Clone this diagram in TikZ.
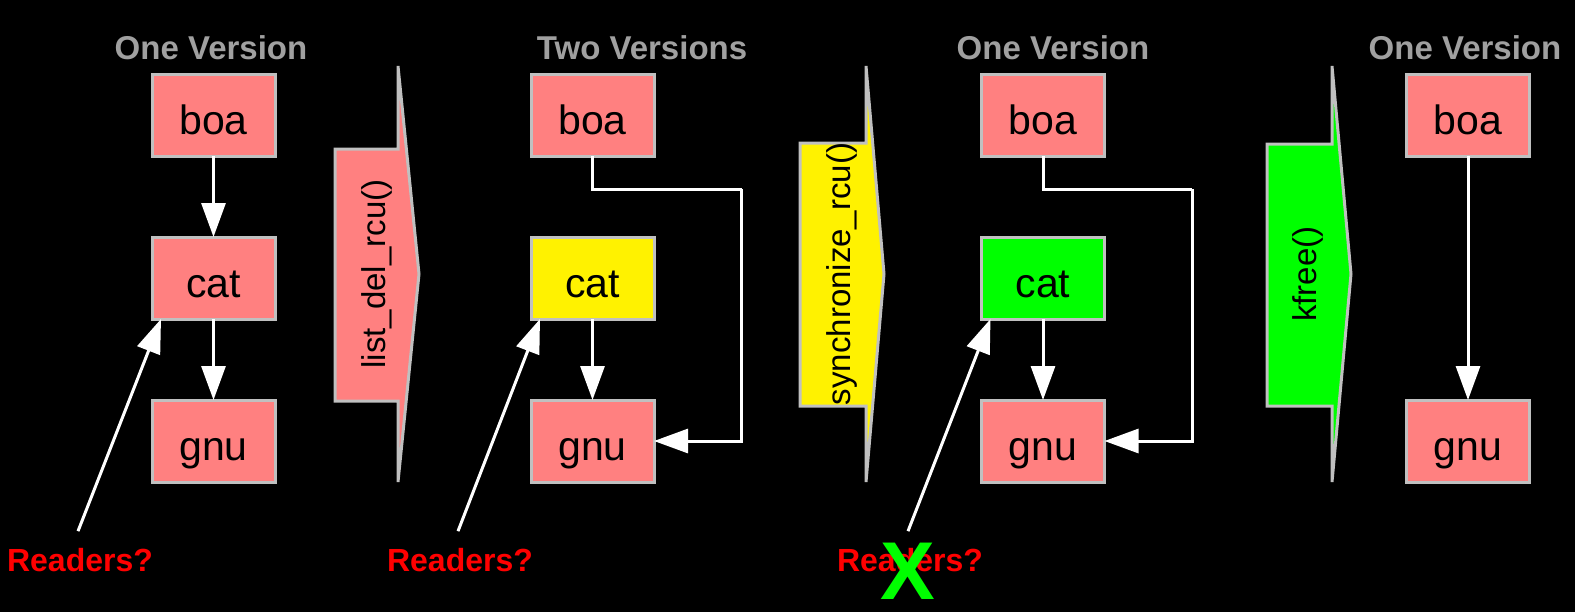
\documentclass[tikz,border=0pt]{standalone}
\usepackage{fontspec}
\setmainfont{Liberation Sans}
\usetikzlibrary{positioning,arrows.meta}

\definecolor{elem}{HTML}{FF8080}
\definecolor{frame}{HTML}{C0C0C0}
\definecolor{caption}{HTML}{A0A0A0}

\begin{document}
\begin{tikzpicture}[
    x=0.5pt, y=-0.5pt,
    elem/.style={rectangle, draw=frame, line width=1.5pt, fill=elem, minimum width=61.5pt, minimum height=41pt, inner sep=0pt, outer sep=0pt, text height=19pt, text depth=0pt, font=\fontsize{20.5}{24}\selectfont},
    title/.style={text=caption, font=\fontsize{16.5}{19}\selectfont\bfseries},
    reader/.style={text=red, font=\fontsize{16}{19}\selectfont\bfseries},
    phase/.style={draw=frame, line width=1.5pt},
    phaselabel/.style={rotate=90, font=\fontsize{16.5}{19}\selectfont},
    link/.style={-{Triangle[length=17pt,width=12pt]}, white, line width=1.5pt},
    wire/.style={white, line width=1.5pt},
    node distance=40.5pt
  ]

    \fill[black] (0,0) rectangle (1575,612);
    \useasboundingbox (0,0) rectangle (1575,612);

    % Panel 1: one version
    \node[title] (t1) at (211,48) {One Version};
    \node[elem] (boa1) at (213.5,115) {boa};
    \node[elem, below=of boa1] (cat1) {cat};
    \node[elem, below=of cat1] (gnu1) {gnu};
    \node[reader] (rd1) at (80,560) {Readers?};

    \draw[link] (boa1) -- (cat1);
    \draw[link] (cat1) -- (gnu1);
    \draw[link] ([xshift=-1pt,yshift=5pt]rd1.north) -- ([xshift=4.5pt]cat1.south west);

    % list_del_rcu()
    \filldraw[phase, fill=elem] (335,149) -- (398,149) -- (398,66) -- (419,274) -- (398,482) -- (398,401) -- (335,401) -- cycle;
    \node[phaselabel] (del) at (377,274) {list\_del\_rcu()};

    % Panel 2: two versions
    \node[title] (t2) at (642,48) {Two Versions};
    \node[elem] (boa2) at (592.5,115) {boa};
    \node[elem, fill=yellow, below=of boa2] (cat2) {cat};
    \node[elem, below=of cat2] (gnu2) {gnu};
    \node[reader] (rd2) at (460,560) {Readers?};

    \draw[link] (cat2) -- (gnu2);
    \draw[wire] (boa2.south) -- ++(0,33) -- ++(149,0) coordinate (bend2);
    \draw[link] (bend2) |- (gnu2.east);
    \draw[link] ([xshift=-1pt,yshift=5pt]rd2.north) -- ([xshift=4.5pt]cat2.south west);

    % synchronize_rcu()
    \filldraw[phase, fill=yellow] (800,143) -- (866,143) -- (866,66) -- (884,274) -- (866,482) -- (866,406) -- (800,406) -- cycle;
    \node[phaselabel] (sync) at (842,274) {synchronize\_rcu()};

    % Panel 3: one version again
    \node[title] (t3) at (1053,48) {One Version};
    \node[elem] (boa3) at (1043,115) {boa};
    \node[elem, fill=green, below=of boa3] (cat3) {cat};
    \node[elem, below=of cat3] (gnu3) {gnu};
    \node[reader] (rd3) at (910,560) {Readers?};

    \draw[link] (cat3) -- (gnu3);
    \draw[wire] (boa3.south) -- ++(0,33) -- ++(149,0) coordinate (bend3);
    \draw[link] (bend3) |- (gnu3.east);
    \draw[link] ([xshift=-1pt,yshift=5pt]rd3.north) -- ([xshift=4.5pt]cat3.south west);
    \node[text=green, inner sep=0pt, font=\fontsize{41}{46}\selectfont\bfseries] (nox) at (908,571) {X};

    % kfree()
    \filldraw[phase, fill=green] (1267,144) -- (1332,144) -- (1332,66) -- (1351,274) -- (1332,482) -- (1332,406) -- (1267,406) -- cycle;
    \node[phaselabel] (free) at (1308,274) {kfree()};

    % Panel 4: cat gone
    \node[title] (t4) at (1465,48) {One Version};
    \node[elem] (boa4) at (1468,115) {boa};
    \node[elem, below=122pt of boa4] (gnu4) {gnu};

    \draw[link] (boa4) -- (gnu4);
  \end{tikzpicture}
\end{document}
